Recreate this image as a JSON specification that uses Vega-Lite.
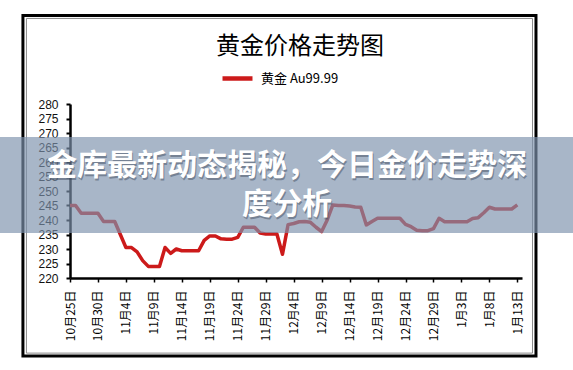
{
  "$schema": "https://vega.github.io/schema/vega-lite/v6.json",
  "width": 452,
  "height": 174,
  "autosize": {"type": "none"},
  "padding": {"left": 70, "top": 104, "right": 51, "bottom": 92},
  "background": "#ffffff",
  "title": {"text": "黄金价格走势图", "font": "Noto Sans CJK SC", "fontSize": 24, "fontWeight": "normal", "color": "#000000", "anchor": "middle", "frame": "group", "offset": -45, "dx": 4},
  "config": {
    "view": {"stroke": null},
    "axis": {"grid": false, "title": null, "labelOverlap": false, "labelFlush": false, "labelBound": false, "tickCount": 100}
  },
  "layer": [
    {
      "data": {"values": [
        {"date": "2015-10-25", "price": 245, "series": "黄金 Au99.99"},
        {"date": "2015-10-26", "price": 245, "series": "黄金 Au99.99"},
        {"date": "2015-10-27", "price": 242.3, "series": "黄金 Au99.99"},
        {"date": "2015-10-28", "price": 242.3, "series": "黄金 Au99.99"},
        {"date": "2015-10-29", "price": 242.3, "series": "黄金 Au99.99"},
        {"date": "2015-10-30", "price": 242.3, "series": "黄金 Au99.99"},
        {"date": "2015-10-31", "price": 239.5, "series": "黄金 Au99.99"},
        {"date": "2015-11-01", "price": 239.5, "series": "黄金 Au99.99"},
        {"date": "2015-11-02", "price": 239.5, "series": "黄金 Au99.99"},
        {"date": "2015-11-03", "price": 235, "series": "黄金 Au99.99"},
        {"date": "2015-11-04", "price": 230.5, "series": "黄金 Au99.99"},
        {"date": "2015-11-05", "price": 230.5, "series": "黄金 Au99.99"},
        {"date": "2015-11-06", "price": 229, "series": "黄金 Au99.99"},
        {"date": "2015-11-07", "price": 226, "series": "黄金 Au99.99"},
        {"date": "2015-11-08", "price": 224, "series": "黄金 Au99.99"},
        {"date": "2015-11-09", "price": 224, "series": "黄金 Au99.99"},
        {"date": "2015-11-10", "price": 224, "series": "黄金 Au99.99"},
        {"date": "2015-11-11", "price": 230.5, "series": "黄金 Au99.99"},
        {"date": "2015-11-12", "price": 228.5, "series": "黄金 Au99.99"},
        {"date": "2015-11-13", "price": 230, "series": "黄金 Au99.99"},
        {"date": "2015-11-14", "price": 229.4, "series": "黄金 Au99.99"},
        {"date": "2015-11-15", "price": 229.4, "series": "黄金 Au99.99"},
        {"date": "2015-11-16", "price": 229.4, "series": "黄金 Au99.99"},
        {"date": "2015-11-17", "price": 229.4, "series": "黄金 Au99.99"},
        {"date": "2015-11-18", "price": 233, "series": "黄金 Au99.99"},
        {"date": "2015-11-19", "price": 234.5, "series": "黄金 Au99.99"},
        {"date": "2015-11-20", "price": 234.5, "series": "黄金 Au99.99"},
        {"date": "2015-11-21", "price": 233.5, "series": "黄金 Au99.99"},
        {"date": "2015-11-22", "price": 233.4, "series": "黄金 Au99.99"},
        {"date": "2015-11-23", "price": 233.4, "series": "黄金 Au99.99"},
        {"date": "2015-11-24", "price": 234, "series": "黄金 Au99.99"},
        {"date": "2015-11-25", "price": 237.5, "series": "黄金 Au99.99"},
        {"date": "2015-11-26", "price": 237.5, "series": "黄金 Au99.99"},
        {"date": "2015-11-27", "price": 237.5, "series": "黄金 Au99.99"},
        {"date": "2015-11-28", "price": 235.5, "series": "黄金 Au99.99"},
        {"date": "2015-11-29", "price": 235.2, "series": "黄金 Au99.99"},
        {"date": "2015-11-30", "price": 235.2, "series": "黄金 Au99.99"},
        {"date": "2015-12-01", "price": 235.2, "series": "黄金 Au99.99"},
        {"date": "2015-12-02", "price": 228.2, "series": "黄金 Au99.99"},
        {"date": "2015-12-03", "price": 238.4, "series": "黄金 Au99.99"},
        {"date": "2015-12-04", "price": 238.8, "series": "黄金 Au99.99"},
        {"date": "2015-12-05", "price": 239.4, "series": "黄金 Au99.99"},
        {"date": "2015-12-06", "price": 239.5, "series": "黄金 Au99.99"},
        {"date": "2015-12-07", "price": 239.2, "series": "黄金 Au99.99"},
        {"date": "2015-12-08", "price": 237.5, "series": "黄金 Au99.99"},
        {"date": "2015-12-09", "price": 236, "series": "黄金 Au99.99"},
        {"date": "2015-12-10", "price": 240, "series": "黄金 Au99.99"},
        {"date": "2015-12-11", "price": 245.2, "series": "黄金 Au99.99"},
        {"date": "2015-12-12", "price": 245, "series": "黄金 Au99.99"},
        {"date": "2015-12-13", "price": 245, "series": "黄金 Au99.99"},
        {"date": "2015-12-14", "price": 244.8, "series": "黄金 Au99.99"},
        {"date": "2015-12-15", "price": 244.5, "series": "黄金 Au99.99"},
        {"date": "2015-12-16", "price": 244.4, "series": "黄金 Au99.99"},
        {"date": "2015-12-17", "price": 238.3, "series": "黄金 Au99.99"},
        {"date": "2015-12-18", "price": 239.5, "series": "黄金 Au99.99"},
        {"date": "2015-12-19", "price": 240.6, "series": "黄金 Au99.99"},
        {"date": "2015-12-20", "price": 240.6, "series": "黄金 Au99.99"},
        {"date": "2015-12-21", "price": 240.6, "series": "黄金 Au99.99"},
        {"date": "2015-12-22", "price": 240.6, "series": "黄金 Au99.99"},
        {"date": "2015-12-23", "price": 240.6, "series": "黄金 Au99.99"},
        {"date": "2015-12-24", "price": 238.5, "series": "黄金 Au99.99"},
        {"date": "2015-12-25", "price": 237.7, "series": "黄金 Au99.99"},
        {"date": "2015-12-26", "price": 236.5, "series": "黄金 Au99.99"},
        {"date": "2015-12-27", "price": 236.3, "series": "黄金 Au99.99"},
        {"date": "2015-12-28", "price": 236.3, "series": "黄金 Au99.99"},
        {"date": "2015-12-29", "price": 237, "series": "黄金 Au99.99"},
        {"date": "2015-12-30", "price": 240.6, "series": "黄金 Au99.99"},
        {"date": "2015-12-31", "price": 239.4, "series": "黄金 Au99.99"},
        {"date": "2016-01-01", "price": 239.4, "series": "黄金 Au99.99"},
        {"date": "2016-01-02", "price": 239.4, "series": "黄金 Au99.99"},
        {"date": "2016-01-03", "price": 239.4, "series": "黄金 Au99.99"},
        {"date": "2016-01-04", "price": 239.4, "series": "黄金 Au99.99"},
        {"date": "2016-01-05", "price": 240.5, "series": "黄金 Au99.99"},
        {"date": "2016-01-06", "price": 240.8, "series": "黄金 Au99.99"},
        {"date": "2016-01-07", "price": 242.5, "series": "黄金 Au99.99"},
        {"date": "2016-01-08", "price": 244.4, "series": "黄金 Au99.99"},
        {"date": "2016-01-09", "price": 243.8, "series": "黄金 Au99.99"},
        {"date": "2016-01-10", "price": 243.8, "series": "黄金 Au99.99"},
        {"date": "2016-01-11", "price": 243.8, "series": "黄金 Au99.99"},
        {"date": "2016-01-12", "price": 243.8, "series": "黄金 Au99.99"},
        {"date": "2016-01-13", "price": 245.2, "series": "黄金 Au99.99"}
      ]},
      "mark": {"type": "line", "strokeWidth": 3.5, "strokeJoin": "round"},
      "encoding": {
        "x": {
          "field": "date", "type": "temporal",
          "scale": {"type": "utc", "domain": [{"year": 2015, "month": 10, "date": 25, "utc": true}, {"year": 2016, "month": 1, "date": 13, "hours": 20, "utc": true}]},
          "title": null,
          "axis": {
            "values": [
              {"year": 2015, "month": 10, "date": 25, "utc": true},
              {"year": 2015, "month": 10, "date": 30, "utc": true},
              {"year": 2015, "month": 11, "date": 4, "utc": true},
              {"year": 2015, "month": 11, "date": 9, "utc": true},
              {"year": 2015, "month": 11, "date": 14, "utc": true},
              {"year": 2015, "month": 11, "date": 19, "utc": true},
              {"year": 2015, "month": 11, "date": 24, "utc": true},
              {"year": 2015, "month": 11, "date": 29, "utc": true},
              {"year": 2015, "month": 12, "date": 4, "utc": true},
              {"year": 2015, "month": 12, "date": 9, "utc": true},
              {"year": 2015, "month": 12, "date": 14, "utc": true},
              {"year": 2015, "month": 12, "date": 19, "utc": true},
              {"year": 2015, "month": 12, "date": 24, "utc": true},
              {"year": 2015, "month": 12, "date": 29, "utc": true},
              {"year": 2016, "month": 1, "date": 3, "utc": true},
              {"year": 2016, "month": 1, "date": 8, "utc": true},
              {"year": 2016, "month": 1, "date": 13, "utc": true}
            ],
            "tickCount": 100,
            "labelExpr": "(utcmonth(datum.value) + 1) + '月' + utcdate(datum.value) + '日'",
            "labelAngle": 270,
            "labelFont": "Noto Sans CJK SC",
            "labelFontSize": 12,
            "labelColor": "#000000",
            "labelPadding": 8,
            "labelOverlap": false,
            "labelFlush": false,
            "labelBound": false,
            "domainColor": "#000000",
            "domainWidth": 2.5,
            "tickColor": "#000000",
            "tickSize": 4,
            "tickWidth": 1.5,
            "grid": false
          }
        },
        "y": {
          "field": "price", "type": "quantitative",
          "scale": {"domain": [220, 280]},
          "title": null,
          "axis": {
            "values": [220, 225, 230, 235, 240, 245, 250, 255, 260, 265, 270, 275, 280],
            "tickCount": 100,
            "format": "d",
            "labelFont": "Liberation Sans",
            "labelFontSize": 12,
            "labelColor": "#111111",
            "labelPadding": 8,
            "labelOverlap": false,
            "labelFlush": false,
            "labelBound": false,
            "domainColor": "#000000",
            "domainWidth": 2.5,
            "tickColor": "#000000",
            "tickSize": 4,
            "tickWidth": 2,
            "grid": false
          }
        },
        "color": {
          "field": "series", "type": "nominal",
          "scale": {"range": ["#cc1a1a"]},
          "legend": {
            "orient": "none", "legendX": 150, "legendY": -43,
            "title": null,
            "symbolType": "stroke", "symbolStrokeWidth": 4.5, "symbolSize": 900,
            "labelFont": "Noto Sans CJK SC", "labelFontSize": 13, "labelColor": "#000000", "labelOffset": 6
          }
        }
      }
    },
    {
      "data": {"values": [{}]},
      "mark": {"type": "rect", "filled": false, "stroke": "#000000", "strokeWidth": 3},
      "encoding": {
        "x": {"datum": {"year": 2015, "month": 10, "date": 16, "hours": 14, "utc": true}, "type": "temporal", "scale": {"type": "utc", "domain": [{"year": 2015, "month": 10, "date": 25, "utc": true}, {"year": 2016, "month": 1, "date": 13, "hours": 20, "utc": true}]}, "title": null},
        "x2": {"datum": {"year": 2016, "month": 1, "date": 16, "hours": 8, "utc": true}},
        "y": {"datum": 310.5, "type": "quantitative", "scale": {"domain": [220, 280]}, "title": null},
        "y2": {"datum": 193.1}
      }
    },
    {
      "data": {"values": [{}]},
      "mark": {"type": "rect", "filled": false, "stroke": "#8a8a8a", "strokeWidth": 1},
      "encoding": {
        "x": {"datum": {"year": 2015, "month": 10, "date": 17, "hours": 5, "utc": true}, "type": "temporal", "scale": {"type": "utc", "domain": [{"year": 2015, "month": 10, "date": 25, "utc": true}, {"year": 2016, "month": 1, "date": 13, "hours": 20, "utc": true}]}, "title": null},
        "x2": {"datum": {"year": 2016, "month": 1, "date": 15, "hours": 17, "utc": true}},
        "y": {"datum": 309.5, "type": "quantitative", "scale": {"domain": [220, 280]}, "title": null},
        "y2": {"datum": 194.1}
      }
    },
    {
      "data": {"values": [{}]},
      "mark": {"type": "rect", "fill": "#7d92ad", "opacity": 0.67},
      "encoding": {
        "x": {"datum": {"year": 2015, "month": 10, "date": 12, "utc": true}, "type": "temporal", "scale": {"type": "utc", "domain": [{"year": 2015, "month": 10, "date": 25, "utc": true}, {"year": 2016, "month": 1, "date": 13, "hours": 20, "utc": true}]}, "title": null},
        "x2": {"datum": {"year": 2016, "month": 1, "date": 25, "utc": true}},
        "y": {"datum": 268.62, "type": "quantitative", "scale": {"domain": [220, 280]}, "title": null},
        "y2": {"datum": 235.52}
      }
    },
    {
      "data": {"values": [{}]},
      "mark": {"type": "text", "text": "金库最新动态揭秘，今日金价走势深", "font": "Noto Sans CJK SC", "fontWeight": "bold", "fontSize": 30, "fill": "#3a4556", "opacity": 0.45, "dx": 1, "dy": 1.5, "align": "center", "baseline": "middle"},
      "encoding": {
        "x": {"datum": {"year": 2015, "month": 12, "date": 2, "hours": 19, "utc": true}, "type": "temporal", "scale": {"type": "utc", "domain": [{"year": 2015, "month": 10, "date": 25, "utc": true}, {"year": 2016, "month": 1, "date": 13, "hours": 20, "utc": true}]}, "title": null},
        "y": {"datum": 258.62, "type": "quantitative", "scale": {"domain": [220, 280]}, "title": null}
      }
    },
    {
      "data": {"values": [{}]},
      "mark": {"type": "text", "text": "度分析", "font": "Noto Sans CJK SC", "fontWeight": "bold", "fontSize": 30, "fill": "#3a4556", "opacity": 0.45, "dx": 1, "dy": 1.5, "align": "center", "baseline": "middle"},
      "encoding": {
        "x": {"datum": {"year": 2015, "month": 12, "date": 2, "hours": 19, "utc": true}, "type": "temporal", "scale": {"type": "utc", "domain": [{"year": 2015, "month": 10, "date": 25, "utc": true}, {"year": 2016, "month": 1, "date": 13, "hours": 20, "utc": true}]}, "title": null},
        "y": {"datum": 245.17, "type": "quantitative", "scale": {"domain": [220, 280]}, "title": null}
      }
    },
    {
      "data": {"values": [{}]},
      "mark": {"type": "text", "text": "金库最新动态揭秘，今日金价走势深", "font": "Noto Sans CJK SC", "fontWeight": "bold", "fontSize": 30, "fill": "#ffffff", "align": "center", "baseline": "middle"},
      "encoding": {
        "x": {"datum": {"year": 2015, "month": 12, "date": 2, "hours": 19, "utc": true}, "type": "temporal", "scale": {"type": "utc", "domain": [{"year": 2015, "month": 10, "date": 25, "utc": true}, {"year": 2016, "month": 1, "date": 13, "hours": 20, "utc": true}]}, "title": null},
        "y": {"datum": 258.62, "type": "quantitative", "scale": {"domain": [220, 280]}, "title": null}
      }
    },
    {
      "data": {"values": [{}]},
      "mark": {"type": "text", "text": "度分析", "font": "Noto Sans CJK SC", "fontWeight": "bold", "fontSize": 30, "fill": "#ffffff", "align": "center", "baseline": "middle"},
      "encoding": {
        "x": {"datum": {"year": 2015, "month": 12, "date": 2, "hours": 19, "utc": true}, "type": "temporal", "scale": {"type": "utc", "domain": [{"year": 2015, "month": 10, "date": 25, "utc": true}, {"year": 2016, "month": 1, "date": 13, "hours": 20, "utc": true}]}, "title": null},
        "y": {"datum": 245.17, "type": "quantitative", "scale": {"domain": [220, 280]}, "title": null}
      }
    }
  ]
}
